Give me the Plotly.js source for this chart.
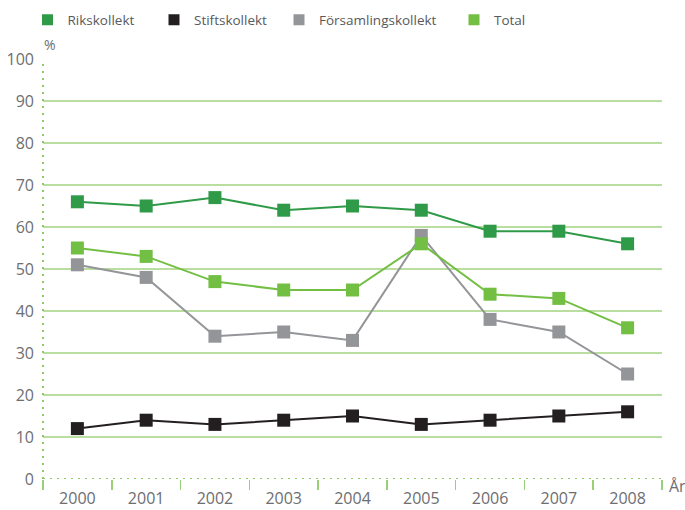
<!DOCTYPE html>
<html>
<head>
<meta charset="utf-8">
<script src="https://cdn.plot.ly/plotly-3.0.1.min.js"></script>
<style>html,body{margin:0;padding:0;background:#fff;}#chart{width:685px;height:510px;}</style>
</head>
<body>
<div id="chart"></div>
<script>
var years = ["2000","2001","2002","2003","2004","2005","2006","2007","2008"];
var rikskollekt = [66, 65, 67, 64, 65, 64, 59, 59, 56];
var stiftskollekt = [12, 14, 13, 14, 15, 13, 14, 15, 16];
var forsamlingskollekt = [51, 48, 34, 35, 33, 58, 38, 35, 25];
var total = [55, 53, 47, 45, 45, 56, 44, 43, 36];
var seriesNames = ["Rikskollekt", "Stiftskollekt", "Församlingskollekt", "Total"];
var yTicks = [0, 10, 20, 30, 40, 50, 60, 70, 80, 90, 100];

var colors = ["#2f9a47", "#231f20", "#939598", "#72bf44"];
var seriesData = [rikskollekt, stiftskollekt, forsamlingskollekt, total];
var legendIds = ["legend", "legend2", "legend3", "legend4"];

var traces = [];
seriesData.forEach(function (vals, i) {
  traces.push({
    type: "scatter", mode: "lines+markers", x: years, y: vals, name: seriesNames[i],
    showlegend: false, cliponaxis: false,
    line: {color: colors[i], width: 2},
    marker: {symbol: "square", size: 13, color: colors[i]}
  });
});
seriesData.forEach(function (vals, i) {
  traces.push({
    type: "scatter", mode: "markers", x: [null], y: [null], name: seriesNames[i],
    showlegend: true, legend: legendIds[i], hoverinfo: "skip",
    marker: {symbol: "square", size: 11, color: colors[i]}
  });
});

var font = "'Open Sans', 'Noto Sans', sans-serif";
var legendX = [27.5, 154, 279, 454];
function lg(px) {
  return {x: (px - 43) / 619, xanchor: "left", y: 1.0929, yanchor: "middle",
    orientation: "h", bgcolor: "rgba(0,0,0,0)", font: {family: font, size: 13.5, color: "#58595b"}};
}

var layout = {
  width: 685, height: 510,
  margin: {l: 43, r: 23, t: 59, b: 31, pad: 0, autoexpand: false},
  paper_bgcolor: "#ffffff", plot_bgcolor: "#ffffff",
  font: {family: font, color: "#6d6e71"},
  xaxis: {
    type: "category", range: [-0.5, 8.5], tickson: "boundaries",
    ticks: "outside", ticklen: 10, tickwidth: 1.5, tickcolor: "#99cf78",
    ticklabelstandoff: 8,
    showgrid: false, zeroline: false, showline: false,
    tickfont: {family: font, size: 16, color: "#6d6e71"}
  },
  yaxis: {
    range: [0, 100], tickvals: yTicks, ticks: "", showline: false,
    ticklabelstandoff: 8, ticklabelshift: -4.5,
    showgrid: true, gridcolor: "#b9dea0", gridwidth: 1.3,
    zeroline: true, zerolinecolor: "#ffffff", zerolinewidth: 3,
    tickfont: {family: font, size: 16, color: "#6d6e71"}
  },
  legend: lg(legendX[0]), legend2: lg(legendX[1]), legend3: lg(legendX[2]), legend4: lg(legendX[3]),
  shapes: [
    {type: "line", xref: "paper", yref: "y", x0: 0, x1: 0, y0: 0, y1: 100, layer: "above",
      line: {color: "#8cc866", width: 2, dash: "2px,5px"}},
    {type: "line", xref: "paper", yref: "y", x0: 0, x1: 1, y0: 0, y1: 0, layer: "above",
      line: {color: "#8cc866", width: 2, dash: "2px,5px"}}
  ],
  annotations: [
    {text: "%", xref: "paper", yref: "paper", x: (50 - 43) / 619, y: (479 - 45) / 420,
      xanchor: "center", yanchor: "middle", showarrow: false, font: {family: font, size: 14, color: "#6d6e71"}},
    {text: "År", xref: "paper", yref: "paper", x: (677 - 43) / 619, y: (479 - 486) / 420,
      xanchor: "center", yanchor: "middle", showarrow: false, font: {family: font, size: 16, color: "#6d6e71"}}
  ]
};

Plotly.newPlot("chart", traces, layout, {displayModeBar: false, staticPlot: true});
</script>
</body>
</html>
